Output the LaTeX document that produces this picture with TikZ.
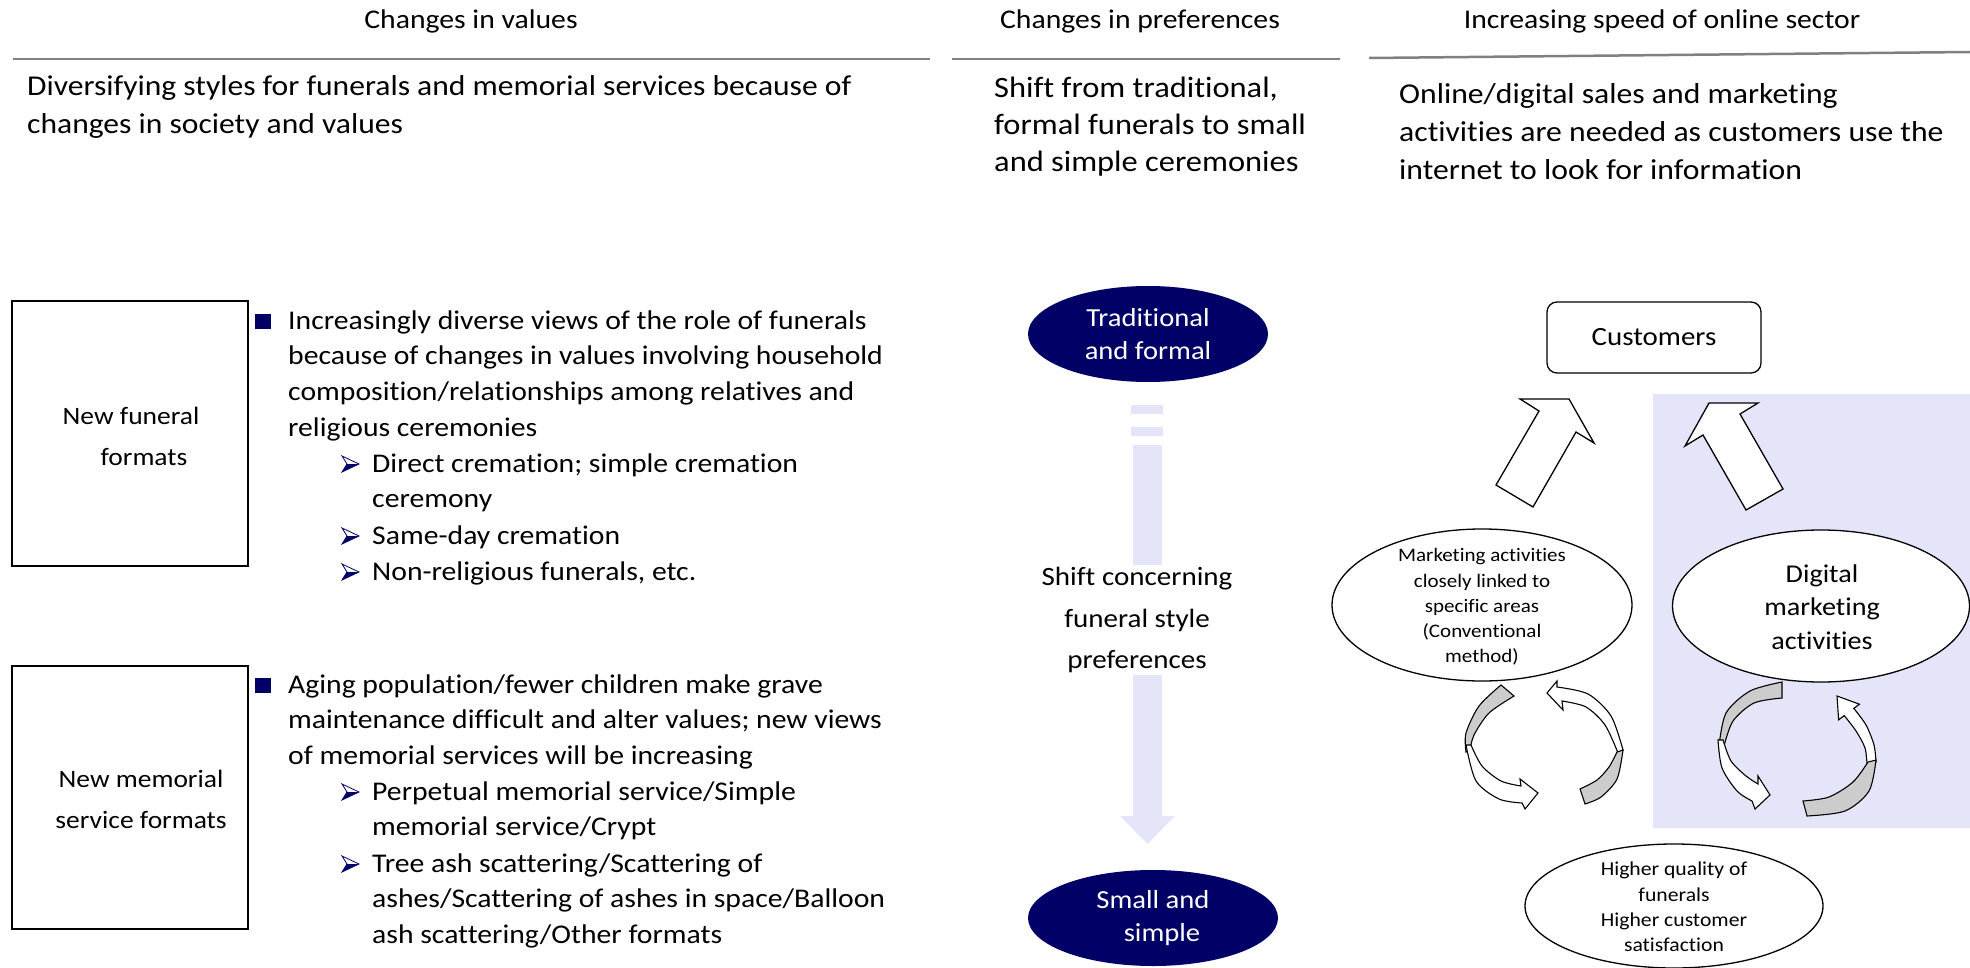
\documentclass[tikz,border=0pt]{standalone}
\usepackage{fontspec}
\setmainfont{Carlito}[FakeStretch=1.1, Ligatures=NoCommon]
\usetikzlibrary{shapes.geometric}
\definecolor{navy}{RGB}{0,0,102}
\definecolor{lav}{RGB}{229,229,250}
\definecolor{hline}{RGB}{128,128,128}
\definecolor{backg}{RGB}{204,204,204}
\begin{document}
\begin{tikzpicture}[x=1pt,y=-1pt,
  hdr/.style={font=\fontsize{27}{30}\selectfont, anchor=base, inner sep=0},
  bodyt/.style={align=left, anchor=base west, inner sep=0},
  bult/.style={font=\fontsize{27}{35.8}\selectfont, align=left, anchor=base west, inner sep=0},
  hrule/.style={draw=hline, line width=2.5},
  lbox/.style={draw=black, line width=1.5, minimum width=236, minimum height=265, inner sep=0},
  boxt/.style={font=\fontsize{25}{41}\selectfont, align=center, inner sep=0},
  navyell/.style={ellipse, fill=navy, draw=none, minimum width=240, minimum height=96, text=white, font=\fontsize{26}{33}\selectfont, align=center, inner sep=0},
  ell/.style={ellipse, draw=black, fill=white, line width=1.3, inner sep=0},
  blk/.style={draw=black, fill=white, line width=1.3, line join=miter},
  cgray/.style={draw=black, fill=backg, line width=1.1},
  cwhite/.style={draw=black, fill=white, line width=1.1},
  arrbul/.pic={
    \filldraw[draw=navy, fill=white, line width=0.8] (0,-8) -- (17,0) -- (0,8) -- (5,0) -- cycle;
    \fill[navy] (5,0) -- (17,0) -- (0,8) -- cycle;
  }
]
\useasboundingbox (0,0) rectangle (1970,968);

% headers
\node[hdr] (h1) at (471,29) {Changes in values};
\node[hdr] (h2) at (1140,29) {Changes in preferences};
\node[hdr] (h3) at (1662,29) {Increasing speed of online sector};
\draw[hrule] (13,59) -- (930,59);
\draw[hrule] (952,59) -- (1340,59);
\draw[hrule] (1369,58) -- (1970,52);

% top texts (base anchor = baseline of last line)
\node[bodyt, font=\fontsize{28.7}{38}\selectfont] (d1) at (27,134) {Diversifying styles for funerals and memorial services because of\\changes in society and values};
\node[bodyt, font=\fontsize{29.5}{37}\selectfont] (d2) at (994,172) {Shift from traditional,\\formal funerals to small\\and simple ceremonies};
\node[bodyt, font=\fontsize{28.8}{37.7}\selectfont] (d3) at (1399,179.4) {Online/digital sales and marketing\\activities are needed as customers use the\\internet to look for information};

% left boxes
\node[lbox] (b1) at (130,433.5) {};
\node[boxt] (t1) at (131,436) {New funeral\\\hspace*{26pt}formats};
\node[lbox, minimum height=263] (b2) at (130,797.5) {};
\node[boxt] (t2) at (141,799) {New memorial\\service formats};

% bullets 1
\fill[navy] (255,314) rectangle (271,329);
\node[bult] (p1) at (288,436.4) {Increasingly diverse views of the role of funerals\\because of changes in values involving household\\composition/relationships among relatives and\\religious ceremonies};
\pic at (342,464) {arrbul};
\node[bult] (p1a) at (372,507.8) {Direct cremation; simple cremation\\ceremony};
\pic at (342,536) {arrbul};
\node[bult] (p1b) at (372,544) {Same-day cremation};
\pic at (342,572) {arrbul};
\node[bult] (p1c) at (372,580) {Non-religious funerals, etc.};

% bullets 2
\fill[navy] (255,678) rectangle (271,693);
\node[bult] (p2) at (288,764.6) {Aging population/fewer children make grave\\maintenance difficult and alter values; new views\\of memorial services will be increasing};
\pic at (342,792) {arrbul};
\node[bult] (p2a) at (372,835.8) {Perpetual memorial service/Simple\\memorial service/Crypt};
\pic at (342,864) {arrbul};
\node[bult] (p2b) at (372,943.6) {Tree ash scattering/Scattering of\\ashes/Scattering of ashes in space/Balloon\\ash scattering/Other formats};

% middle column
\node[navyell] (e1) at (1148,334) {Traditional\\and formal};
\node[navyell, minimum width=250] (e2) at (1153,918) {Small and\\\hspace*{18pt}simple};
\fill[lav] (1131,405) rectangle (1163,414);
\fill[lav] (1131,427) rectangle (1163,436);
\fill[lav] (1133,445) -- (1162,445) -- (1162,816) -- (1175,816) -- (1147.5,844) -- (1120,816) -- (1133,816) -- cycle;
\node[font=\fontsize{26.4}{41.5}\selectfont, align=center, fill=white, inner xsep=4, inner ysep=2] (sh) at (1137,620) {Shift concerning\\funeral style\\preferences};

% right panel
\fill[lav] (1653,394) rectangle (1970,828);
\node[draw=black, rounded corners=10, line width=1.3, minimum width=214, minimum height=71, font=\fontsize{26.3}{30}\selectfont] (cu) at (1654,337.5) {Customers};

\draw[blk] (1539,411) -- (1520,399) -- (1569,399) -- (1594,443) -- (1576,432) -- (1533,507) -- (1496,485) -- cycle;
\draw[blk] (1740,414) -- (1758,403) -- (1709,403) -- (1685,446) -- (1703,435) -- (1746,510) -- (1783,489) -- cycle;

\node[ell, minimum width=300, minimum height=152] (m1) at (1482,605) {};
\node[font=\fontsize{19.1}{25.2}\selectfont, align=center] (m1t) at (1482,607) {Marketing activities\\closely linked to\\specific areas\\(Conventional\\method)};
\node[ell, minimum width=297, minimum height=152] (m2) at (1821,606) {};
\node[font=\fontsize{25.6}{33.5}\selectfont, align=center] (m2t) at (1822,607) {Digital\\marketing\\activities};
\node[ell, minimum width=298, minimum height=124] (m3) at (1674,906) {};
\node[font=\fontsize{19.7}{25.3}\selectfont, align=center] (m3t) at (1674,907) {Higher quality of\\funerals\\Higher customer\\satisfaction};

% curved arrows, left pair
\filldraw[cgray] plot[smooth] coordinates {(1466,752) (1466,733) (1479,706) (1501,685)} -- (1514,696) -- plot[smooth] coordinates {(1514,696) (1489,713) (1474,735) (1470,750)} -- cycle;
\filldraw[cwhite] plot[smooth] coordinates {(1466,745) (1476,781) (1499,799) (1522,803)} -- (1525,809) -- (1538,793) -- (1520,779) -- (1521,786) -- plot[smooth] coordinates {(1521,786) (1501,781) (1482,766) (1471,745)} -- cycle;
\filldraw[cwhite] (1547,693) -- (1557,681) -- (1557,687) -- plot[smooth] coordinates {(1557,687) (1588,694) (1611,716) (1623,750)} -- plot[smooth] coordinates {(1618,753) (1605,725) (1586,707) (1562,701)} -- (1563,710) -- cycle;
\filldraw[cgray] plot[smooth] coordinates {(1623,750) (1617,779) (1601,797) (1585,804)} -- (1580,789) -- plot[smooth] coordinates {(1580,789) (1597,780) (1609,767) (1617,752)} -- cycle;

% curved arrows, right pair
\filldraw[cgray] plot[smooth] coordinates {(1719,746) (1726,713) (1750,691) (1782,682)} -- (1782,698) -- plot[smooth] coordinates {(1782,698) (1754,703) (1733,721) (1724,746)} -- cycle;
\filldraw[cwhite] plot[smooth] coordinates {(1718,740) (1722,768) (1737,791) (1752,801)} -- (1755,809) -- (1770,795) -- (1758,776) -- (1758,784) -- plot[smooth] coordinates {(1758,784) (1746,776) (1731,761) (1723,740)} -- cycle;
\filldraw[cwhite] (1837,696) -- (1859.4,704.2) -- (1853.8,708.4) -- plot[smooth] coordinates {(1853.8,708.4) (1866,725) (1874,745) (1876,762)} -- plot[smooth] coordinates {(1867,765) (1865,748) (1856,731) (1844.2,715.6)} -- (1838.6,719.8) -- cycle;
\filldraw[cgray] plot[smooth] coordinates {(1876,760) (1869,791) (1845,811) (1807,816)} -- (1803,801) -- plot[smooth] coordinates {(1803,801) (1829,797) (1853,782) (1868,762)} -- cycle;
\end{tikzpicture}
\end{document}
